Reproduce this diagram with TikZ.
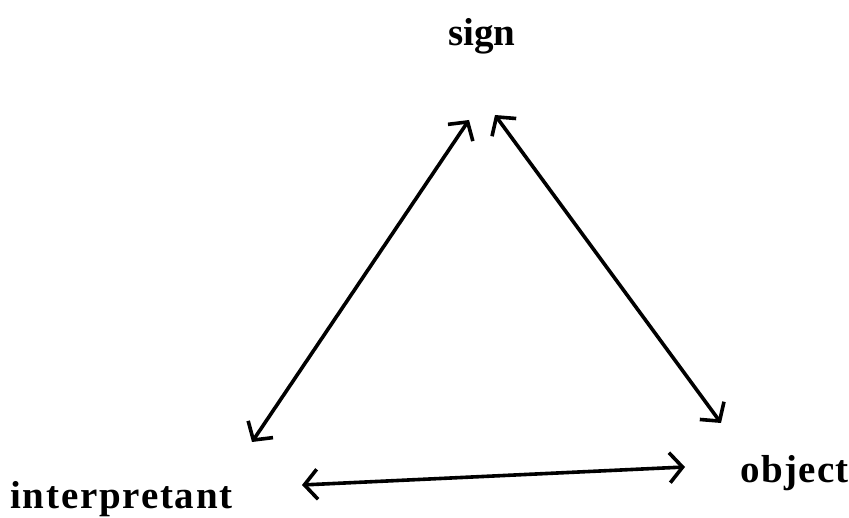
\documentclass[tikz,border=0pt]{standalone}
\usepackage{fontspec}
\setmainfont{Liberation Serif}
\usetikzlibrary{arrows.meta}
\tikzset{
  lbl/.style={font=\bfseries\fontsize{39}{41}\selectfont, inner sep=0pt, anchor=base},
  rel/.style={line width=3.6pt, line cap=round, {Straight Barb[length=13pt,width=30pt,line width=3.6pt]}-{Straight Barb[length=13pt,width=30pt,line width=3.6pt]}}
}
\begin{document}
\begin{tikzpicture}[x=1pt,y=1pt]
\useasboundingbox (0,0) rectangle (849,518);
\node[lbl] (sign) at (482,472) {sign};
\node[lbl] (interp) at (121.5,9) {\addfontfeatures{LetterSpace=4.5}interpretant};
\node[lbl] (object) at (794.5,35) {\addfontfeatures{LetterSpace=3.5}object};
\coordinate (sl) at (469,398);
\coordinate (sr) at (495,403);
\coordinate (il) at (252,76);
\coordinate (ib) at (302,33);
\coordinate (ot) at (721,95);
\coordinate (ob) at (685,51);
\draw[rel] (sl) -- (il);
\draw[rel] (sr) -- (ot);
\draw[rel] (ib) -- (ob);
\end{tikzpicture}
\end{document}
